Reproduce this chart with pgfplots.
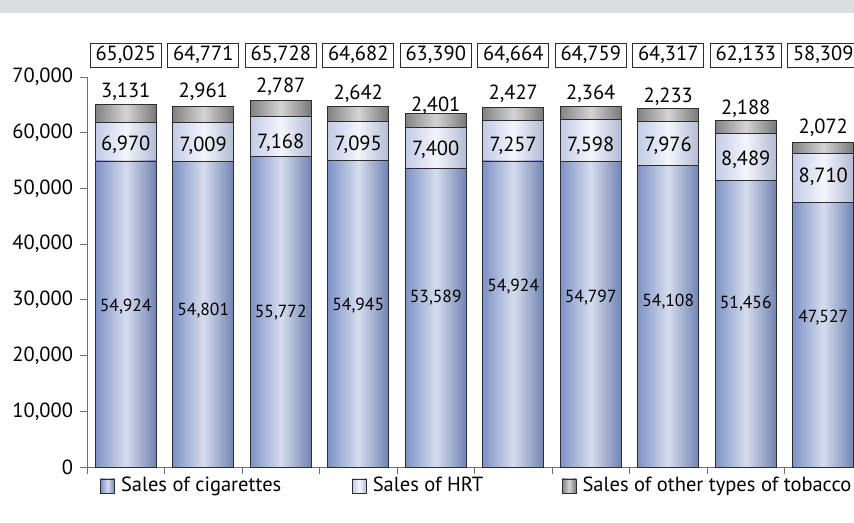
\documentclass[border=0pt]{standalone}
\usepackage{fontspec}
\setmainfont{PT Sans}
\usepackage{pgfplots}
\usepackage{pgfplotstable}
\pgfplotsset{compat=1.18}

\definecolor{cigedge}{RGB}{126,146,198}
\definecolor{cigmid}{RGB}{214,220,238}
\definecolor{hrtedge}{RGB}{194,203,230}
\definecolor{hrtmid}{RGB}{244,245,252}
\definecolor{othedge}{RGB}{130,130,130}
\definecolor{othmid}{RGB}{212,212,212}
\definecolor{band}{RGB}{220,221,224}
\definecolor{edge}{RGB}{45,45,45}
\definecolor{axisgray}{RGB}{110,110,110}

% values per year; cy/hy/oy = where the labels sit
\pgfplotstableread{
x cig hrt oth tot cy hy oy
0 54924 6970 3131 65025 28718 57796 67300
1 54801 7009 2961 64771 28000 57616 67300
2 55772 7168 2787 65728 27641 58155 68200
3 54945 7095 2642 64682 28898 57796 66950
4 53589 7400 2401 63390 30334 56898 64900
5 54924 7257 2427 64664 32308 57616 66950
6 54797 7598 2364 64759 30334 57616 66950
7 54108 7976 2233 64317 29616 57616 66400
8 51456 8489 2188 62133 29257 55103 64250
9 47527 8710 2072 58309 26744 52052 60850
}\sales

\tikzset{
  cigshade/.style={left color=cigedge, right color=cigedge!90!black, middle color=cigmid},
  hrtshade/.style={left color=hrtedge, right color=hrtedge!92!black, middle color=hrtmid},
  othshade/.style={left color=othedge, right color=othedge!92!black, middle color=othmid},
}
\newcommand\bignum{\fontsize{20.5bp}{24bp}\selectfont}
\newcommand\smallnum{\fontsize{17.5bp}{21bp}\selectfont}
\pgfplotsset{
  frame/.style={
    at={(87bp,56bp)}, anchor=south west,
    scale only axis, width=775bp, height=390bp,
    xmin=-0.5, xmax=9.5, ymin=0, ymax=70000,
    clip=false,
  },
  onebar/.style={ybar, bar width=0.787, bar shift=0pt, draw=edge,
    line width=0.8bp, forget plot, restrict x to domain=#1:#1},
  lab/.style={draw=none, nodes near coords, point meta=explicit,
    every node near coord/.append style={anchor=center, text=black, font=\bignum},
    /pgf/number format/1000 sep={,}, /pgf/number format/assume math mode=true},
}

\begin{document}
\fontsize{20.5bp}{24bp}\selectfont
\begin{tikzpicture}
\fill[band] (0,510bp) rectangle (854bp,523bp);

\begin{axis}[
  frame,
  axis x line*=bottom, axis y line*=left,
  axis line style={axisgray, line width=1bp},
  tick style={axisgray, line width=1bp},
  tick align=outside, major tick length=7bp,
  xtick={-0.5,0.5,...,9.5}, xticklabels={},
  ytick={0,10000,...,70000},
  scaled y ticks=false,
  yticklabel style={font=\bignum, /pgf/number format/.cd, 1000 sep={,}, fixed, assume math mode=true},
  legend image code/.code={\draw[#1, draw=edge, line width=0.8bp] (0bp,-7bp) rectangle (14bp,7bp);},
  legend style={draw=none, fill=none, inner sep=0pt, legend columns=3,
    at={(0.0168,-0.0487)}, anchor=west,
    /tikz/every odd column/.append style={column sep=4bp},
    /tikz/every even column/.append style={column sep=0pt}},
  legend cell align=left,
]
% one bar at a time so that each gets its own shading; drawn tallest first
\pgfplotsinvokeforeach{0,...,9}{
  \addplot[onebar=#1, othshade] table[x=x, y expr=\thisrow{cig}+\thisrow{hrt}+\thisrow{oth}]{\sales};
  \addplot[onebar=#1, hrtshade] table[x=x, y expr=\thisrow{cig}+\thisrow{hrt}]{\sales};
  \addplot[onebar=#1, cigshade] table[x=x, y=cig]{\sales};
}
\addlegendimage{cigshade}
\addlegendentry{\makebox[229bp][l]{Sales of cigarettes}}
\addlegendimage{hrtshade}
\addlegendentry{\makebox[187bp][l]{Sales of HRT}}
\addlegendimage{othshade}
\addlegendentry{Sales of other types of tobacco}
\end{axis}

% value labels and boxed totals
\begin{axis}[frame, hide axis]
\addplot[lab, every node near coord/.append style={font=\smallnum}]
  table[x=x, y=cy, meta=cig]{\sales};
\addplot[lab] table[x=x, y=hy, meta=hrt]{\sales};
\addplot[lab] table[x=x, y=oy, meta=oth]{\sales};
\addplot[lab, every node near coord/.append style={draw=edge,
    line width=0.8bp, minimum width=71bp, minimum height=24bp, inner sep=0pt}]
  table[x=x, y expr=73950, meta=tot]{\sales};
\end{axis}

\pgfresetboundingbox
\path[use as bounding box] (0,0) rectangle (854bp,523bp);
\end{tikzpicture}
\end{document}
